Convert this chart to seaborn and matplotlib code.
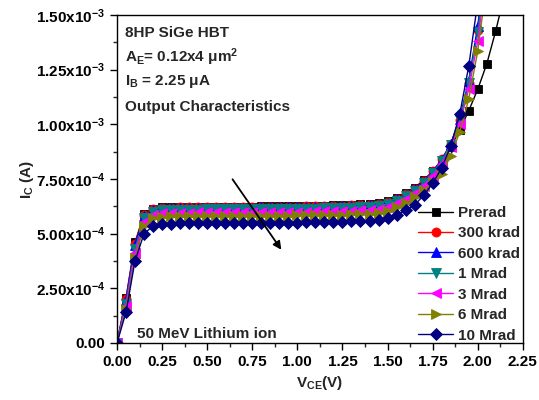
import numpy as np
import pandas as pd
import matplotlib
matplotlib.use("Agg")
import matplotlib.pyplot as plt
from matplotlib.ticker import MultipleLocator, FuncFormatter
import seaborn as sns

# ---------------- data (I_C in units of 1e-4 A) ----------------
vce = [0.00, 0.05, 0.10, 0.15, 0.20, 0.25, 0.30, 0.35, 0.40, 0.45, 0.50, 0.55,
       0.60, 0.65, 0.70, 0.75, 0.80, 0.85, 0.90, 0.95, 1.00, 1.05, 1.10, 1.15,
       1.20, 1.25, 1.30, 1.35, 1.40, 1.45, 1.50, 1.55, 1.60, 1.65, 1.70, 1.75,
       1.80, 1.85, 1.90, 1.95, 2.00, 2.05]
vce_prerad = vce + [2.10, 2.15]

ic_prerad = [0, 2.05, 4.60, 5.90, 6.15, 6.20, 6.21,
             6.22, 6.22, 6.22, 6.23, 6.23, 6.23, 6.24, 6.24, 6.24, 6.25, 6.25, 6.25,
             6.26, 6.26, 6.27, 6.27, 6.28, 6.29, 6.30, 6.32, 6.34, 6.37, 6.40,
             6.50, 6.65, 6.85, 7.10, 7.45, 7.85, 8.35, 8.95, 9.75, 10.62, 11.60,
             12.76, 14.28, 16.00]
ic_300k = [0, 2.00, 4.55, 5.85, 6.12, 6.18, 6.19,
           6.20, 6.20, 6.20, 6.21, 6.21, 6.21, 6.22, 6.22, 6.22, 6.23, 6.23, 6.23,
           6.24, 6.24, 6.25, 6.25, 6.26, 6.27, 6.28, 6.29, 6.31, 6.33, 6.36,
           6.45, 6.60, 6.80, 7.05, 7.40, 7.85, 8.40, 9.10, 10.20, 11.90, 14.30, 17.60]
ic_600k = [0, 1.95, 4.50, 5.80, 6.08, 6.14, 6.16,
           6.17, 6.17, 6.17, 6.18, 6.18, 6.18, 6.19, 6.19, 6.19, 6.20, 6.20, 6.20,
           6.21, 6.21, 6.22, 6.22, 6.23, 6.24, 6.25, 6.26, 6.28, 6.30, 6.33,
           6.42, 6.57, 6.77, 7.02, 7.38, 7.82, 8.38, 9.10, 10.25, 12.00, 14.50, 17.80]
ic_1M = [0, 1.80, 4.30, 5.70, 6.00, 6.07, 6.09,
         6.10, 6.10, 6.10, 6.11, 6.11, 6.11, 6.12, 6.12, 6.12, 6.13, 6.13, 6.13,
         6.14, 6.14, 6.15, 6.15, 6.16, 6.17, 6.18, 6.19, 6.21, 6.23, 6.26,
         6.35, 6.50, 6.70, 6.95, 7.32, 7.78, 8.33, 9.05, 10.20, 11.90, 14.20, 17.50]
ic_3M = [0, 1.70, 4.10, 5.55, 5.87, 5.94, 5.96,
         5.96, 5.96, 5.97, 5.97, 5.97, 5.98, 5.98, 5.98, 5.99, 5.99, 5.99, 6.00,
         6.00, 6.01, 6.01, 6.02, 6.02, 6.03, 6.04, 6.05, 6.07, 6.09, 6.12,
         6.22, 6.38, 6.58, 6.85, 7.20, 7.65, 8.20, 8.95, 10.00, 11.60, 13.80, 17.00]
ic_6M = [0, 1.55, 3.90, 5.35, 5.70, 5.77, 5.79,
         5.79, 5.79, 5.80, 5.80, 5.80, 5.81, 5.81, 5.81, 5.82, 5.82, 5.82, 5.83,
         5.83, 5.84, 5.84, 5.85, 5.85, 5.86, 5.87, 5.88, 5.90, 5.92, 5.95,
         6.05, 6.20, 6.40, 6.68, 7.00, 7.35, 7.75, 8.55, 9.65, 11.15, 13.35, 16.50]
ic_10M = [0, 1.40, 3.75, 5.00, 5.35, 5.44, 5.46,
          5.47, 5.47, 5.47, 5.48, 5.48, 5.48, 5.49, 5.49, 5.49, 5.50, 5.50, 5.50,
          5.51, 5.51, 5.52, 5.52, 5.53, 5.54, 5.55, 5.56, 5.58, 5.60, 5.63,
          5.70, 5.85, 6.08, 6.31, 6.75, 7.30, 8.00, 9.00, 10.45, 12.65, 15.60, 19.50]

labels = ["Prerad", "300 krad", "600 krad", "1 Mrad", "3 Mrad", "6 Mrad", "10 Mrad"]
series_x = [vce_prerad, vce, vce, vce, vce, vce, vce]
series_y = [ic_prerad, ic_300k, ic_600k, ic_1M, ic_3M, ic_6M, ic_10M]
colors = ["#000000", "#ff0000", "#0000ff", "#008080", "#ff00ff", "#808000", "#000080"]
markers = ["s", "o", "^", "v", "<", ">", "D"]
msizes = [5.5, 6.5, 7, 7, 7, 7, 6.5]

frames = []
for lab, xs, ys in zip(labels, series_x, series_y):
    frames.append(pd.DataFrame({"Vce": xs, "Ic": np.array(ys) * 1e-4, "dose": lab}))
df = pd.concat(frames, ignore_index=True)

# ---------------- style ----------------
sns.set_theme(style="ticks")
plt.rcParams["font.family"] = ["Liberation Sans", "DejaVu Sans"]
plt.rcParams["font.weight"] = "bold"
plt.rcParams["mathtext.fontset"] = "custom"
plt.rcParams["mathtext.rm"] = "Liberation Sans:bold"
plt.rcParams["mathtext.bf"] = "Liberation Sans:bold"
plt.rcParams["mathtext.it"] = "Liberation Sans:bold"
plt.rcParams["mathtext.default"] = "bf"

fig = plt.figure(figsize=(5.39, 4.0), dpi=100)
ax = fig.add_axes([0.217, 0.1425, 0.753, 0.82])

for lab, col, mk, ms in zip(labels, colors, markers, msizes):
    sub = df[df["dose"] == lab]
    sns.lineplot(data=sub, x="Vce", y="Ic", ax=ax, color=col, marker=mk,
                 markersize=ms, markeredgecolor=col, markeredgewidth=0.6,
                 linewidth=1.0, label=lab, sort=False)

ax.set_xlim(0, 2.25)
ax.set_ylim(0, 1.5e-3)
ax.xaxis.set_major_locator(MultipleLocator(0.25))
ax.xaxis.set_minor_locator(MultipleLocator(0.125))
ax.yaxis.set_major_locator(MultipleLocator(2.5e-4))
ax.yaxis.set_minor_locator(MultipleLocator(1.25e-4))
ax.xaxis.set_major_formatter(FuncFormatter(lambda v, p: f"{v:.2f}"))


def yfmt(v, p):
    if abs(v) < 1e-12:
        return "0.00"
    e = int(np.floor(np.log10(abs(v)) + 1e-9))
    m = v / 10 ** e
    return f"{m:.2f}x10$^{{{e}}}$"


ax.yaxis.set_major_formatter(FuncFormatter(yfmt))
ax.tick_params(axis="both", which="major", direction="out", length=5, width=1,
               labelsize=11, colors="black", top=False, right=False)
ax.tick_params(axis="both", which="minor", direction="out", length=3, width=1,
               top=False, right=False)
for sp in ax.spines.values():
    sp.set_visible(True)
    sp.set_color("black")
    sp.set_linewidth(1.0)
for lbl in ax.get_xticklabels() + ax.get_yticklabels():
    lbl.set_fontweight("bold")

ax.set_xlabel("V$_{CE}$(V)", fontsize=11, fontweight="bold")
ax.set_ylabel("I$_{C}$ (A)", fontsize=11, fontweight="bold")
ax.xaxis.set_label_coords(0.5, -0.095)
ax.yaxis.set_label_coords(-0.20, 0.5)

# annotations
txt_kw = dict(transform=ax.transAxes, fontsize=11, fontweight="bold", ha="left", va="center")
ax.text(0.02, 0.945, "8HP SiGe HBT", **txt_kw)
ax.text(0.02, 0.872, "A$_E$= 0.12x4 μm$^2$", **txt_kw)
ax.text(0.02, 0.796, "I$_B$ = 2.25 μA", **txt_kw)
ax.text(0.02, 0.72, "Output Characteristics", **txt_kw)
ax.text(0.049, 0.027, "50 MeV Lithium ion", **txt_kw)

ax.annotate("", xy=(0.92, 4.16e-4), xytext=(0.632, 7.59e-4),
            arrowprops=dict(arrowstyle="-|>", color="black", lw=1.3, mutation_scale=12))

leg = ax.legend(loc="upper left", bbox_to_anchor=(418 / 539, 1 - 206 / 400),
                bbox_transform=fig.transFigure, frameon=False, fontsize=11,
                handlelength=2.3, handletextpad=0.3, labelspacing=0.42,
                borderpad=0, borderaxespad=0)
for t in leg.get_texts():
    t.set_fontweight("bold")

fig.savefig("out.png", dpi=100)
